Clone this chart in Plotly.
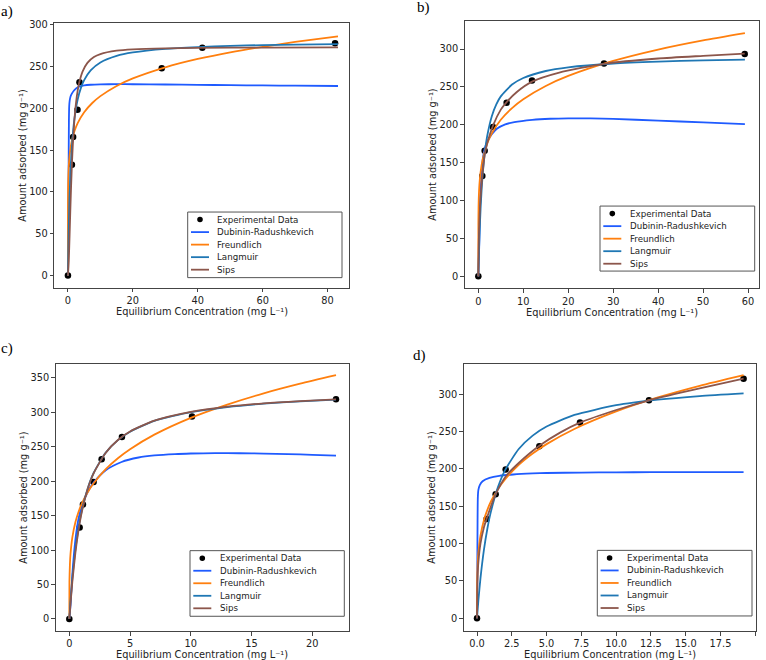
import plotly.graph_objects as go

# ---------------- data ----------------
MODEL_NAMES = ["Dubinin-Radushkevich", "Freundlich", "Langmuir", "Sips"]
EXP_NAME = "Experimental Data"
PANEL_LABELS = ["a)", "b)", "c)", "d)"]
X_TITLE = "Equilibrium Concentration (mg L⁻¹)"
Y_TITLE = "Amount adsorbed (mg g⁻¹)"

# panel a
a_exp_x = [0, 1.23, 1.6, 2.95, 3.55, 28.9, 41.4, 82.3]
a_exp_y = [0, 132.6, 165.8, 198.3, 231.1, 247.8, 272.3, 277.8]
a_dr_x = [0, 0.2, 0.3, 0.4, 0.55, 0.8, 1.2, 1.8, 2.6, 3.6, 5, 7, 10, 15, 20, 30, 40, 50, 60, 70, 83.2]
a_dr_y = [0, 120, 185, 203, 209.5, 214, 217.5, 221, 224, 226, 227.3, 228.1, 228.6, 228.8, 228.7, 228.4, 228.0, 227.6, 227.3, 227.0, 226.6]
a_fr_x = [0, 0.01, 0.05, 0.1, 0.2, 0.4, 0.7, 1, 1.5, 2, 3, 5, 7.5, 10, 15, 20, 30, 40, 50, 60, 70, 83.2]
a_fr_y = [0, 84.1, 104.6, 114.9, 126.2, 138.6, 149.6, 157, 165.9, 172.5, 182.2, 195.3, 206.3, 214.5, 226.7, 235.7, 249, 258.9, 266.9, 273.5, 279.3, 285.9]
a_la_x = [0, 0.1, 0.25, 0.5, 0.75, 1, 1.5, 2, 3, 4, 5, 7, 10, 15, 20, 30, 40, 50, 60, 70, 83.2]
a_la_y = [0, 25.7, 56.4, 93.9, 120.7, 140.7, 168.7, 187.3, 210.5, 224.4, 233.7, 245.3, 254.8, 262.7, 266.8, 271.1, 273.2, 274.6, 275.5, 276.1, 276.7]
a_si_x = [0, 0.25, 0.5, 0.75, 1, 1.25, 1.5, 2, 2.5, 3, 3.5, 4.5, 6, 8, 10, 15, 20, 30, 40, 60, 83.2]
a_si_y = [0, 16.7, 47.2, 79.9, 109.6, 134.8, 155.6, 186.3, 206.8, 221, 231, 243.9, 254.3, 261.2, 264.8, 268.8, 270.4, 271.7, 272.2, 272.6, 272.8]

# panel b
b_exp_x = [0, 0.89, 1.41, 3.26, 6.3, 11.94, 27.96, 59.26]
b_exp_y = [0, 132.5, 165.7, 197.2, 229.2, 258.5, 280.8, 293.4]
b_dr_x = [0, 0.2, 0.4, 0.6, 0.8, 1.0, 1.4, 2.0, 2.4, 3, 4.2, 6, 8, 12, 16, 20, 25, 30, 40, 50, 59.3]
b_dr_y = [0, 40, 95, 125, 143, 155, 168, 178, 182.3, 187.5, 195, 200.5, 203.5, 206.5, 208, 208.6, 208.5, 207.8, 205.5, 203.2, 201]
b_fr_x = [0, 0.01, 0.05, 0.1, 0.25, 0.5, 1, 2, 3, 5, 7.5, 10, 15, 20, 30, 40, 50, 59.3]
b_fr_y = [0, 68.4, 91.1, 103, 121.3, 137.2, 155.2, 175.6, 188.7, 206.7, 222.1, 233.8, 251.3, 264.5, 284.3, 299.3, 311.4, 321]
b_la_x = [0, 0.1, 0.25, 0.5, 0.75, 1, 1.5, 2, 3, 4, 5, 7.5, 10, 15, 20, 30, 40, 50, 59.3]
b_la_y = [0, 23.6, 52.6, 89.1, 115.9, 136.4, 165.9, 185.9, 211.4, 227, 237.5, 253.1, 261.8, 271, 275.8, 280.9, 283.4, 285, 286]
b_si_x = [0, 0.05, 0.15, 0.3, 0.5, 0.89, 1.41, 2, 3.26, 5, 6.3, 8.5, 11.94, 18, 27.96, 40, 50, 59.26]
b_si_y = [0, 31, 57.8, 82.4, 104.4, 132.5, 160, 176, 199, 220, 230, 243, 257, 269, 280.5, 287.5, 291, 294]

# panel c
c_exp_x = [0, 0.85, 1.12, 2.0, 2.66, 4.33, 10.1, 21.95]
c_exp_y = [0, 132.9, 166.1, 198.8, 232.1, 264.3, 294.2, 319.2]
c_dr_x = [0, 0.1, 0.25, 0.5, 0.75, 1, 1.5, 2, 3, 4.3, 5.7, 7, 8.7, 10, 12, 14, 16, 18, 20, 21.95]
c_dr_y = [0, 20, 65, 115, 145, 162, 184, 198, 216, 228, 234.5, 237.5, 239.5, 240.3, 240.8, 240.7, 240.2, 239.4, 238.4, 237.3]
c_fr_x = [0, 0.01, 0.05, 0.1, 0.25, 0.5, 0.75, 1, 1.5, 2, 3, 4, 5, 7, 10, 13, 16, 19, 21.95]
c_fr_y = [0, 53.9, 79.9, 94.7, 118.5, 140.4, 155, 166.3, 183.6, 197, 217.6, 233.4, 246.5, 267.7, 292.1, 311.4, 327.7, 341.7, 354]
c_la_x = [0, 0.05, 0.1, 0.25, 0.5, 0.75, 1, 1.5, 2, 3, 4, 5, 7, 10, 13, 16, 19, 21.95]
c_la_y = [0, 13.8, 26.5, 59.3, 100.8, 131.4, 155, 188.8, 212, 241.6, 259.8, 272, 287.6, 300.4, 307.8, 312.7, 316, 318.5]
c_si_x = [0, 0.05, 0.1, 0.25, 0.5, 0.75, 1, 1.5, 2, 3, 4, 5, 7, 10, 13, 16, 19, 21.95]
c_si_y = [0, 10, 22, 54, 96, 128, 153, 188, 211.5, 241.5, 260, 272.3, 288, 300.8, 308.3, 313.2, 316.4, 318.8]

# panel d
d_exp_x = [0, 0.69, 1.34, 2.06, 4.48, 7.4, 12.36, 19.16]
d_exp_y = [0, 133.1, 166, 199.3, 230.3, 262.3, 292, 320.9]
d_dr_x = [0, 0.02, 0.04, 0.06, 0.1, 0.2, 0.4, 0.9, 1.6, 2.6, 4, 5, 7.5, 10, 12.5, 15, 17.5, 19.16]
d_dr_y = [0, 60, 130, 162, 172, 178.5, 183.5, 188, 190.8, 192.6, 194, 194.6, 195.2, 195.5, 195.7, 195.8, 195.8, 195.7]
d_fr_x = [0, 0.01, 0.05, 0.1, 0.25, 0.5, 0.75, 1, 1.5, 2, 3, 4, 5, 7, 10, 13, 16, 19.16]
d_fr_y = [0, 49.8, 74.3, 88.3, 110.8, 131.7, 145.6, 156.4, 173, 185.8, 205.5, 220.7, 233.3, 253.6, 277.1, 295.8, 311.4, 325.7]
d_la_x = [0, 0.1, 0.25, 0.5, 0.75, 1, 1.5, 2, 3, 4, 5, 7, 10, 13, 16, 19.16]
d_la_y = [0, 23.9, 53.7, 91.9, 120.6, 142.9, 175.3, 197.8, 226.8, 244.7, 256.9, 272.4, 285.4, 292.8, 297.7, 301.3]
d_si_x = [0, 0.02, 0.05, 0.1, 0.25, 0.5, 0.69, 1, 1.34, 2.06, 3, 4.48, 6, 7.4, 10, 12.36, 16, 19.16]
d_si_y = [0, 35, 58, 75, 100, 122, 133, 150, 166, 190, 208, 231, 249, 262, 279, 292, 308, 320.9]

# tick values per panel
a_xticks = [0, 20, 40, 60, 80]
b_xticks = [0, 10, 20, 30, 40, 50, 60]
c_xticks = [0, 5, 10, 15, 20]
d_xticks = [0, 2.5, 5, 7.5, 10, 12.5, 15, 17.5, 20]
a_yticks = [0, 50, 100, 150, 200, 250, 300]
b_yticks = [0, 50, 100, 150, 200, 250, 300]
c_yticks = [0, 50, 100, 150, 200, 250, 300, 350]
d_yticks = [0, 50, 100, 150, 200, 250, 300]

# ---------------- style / layout ----------------
W, H = 766, 660
COLORS = ["#1f5bff", "#ff7f0e", "#1f77b4", "#8c564b"]
AX_COLOR = "#444444"
TXT = "#222222"
FONT = "DejaVu Sans"

panels = [
    dict(exp=(a_exp_x, a_exp_y), curves=[(a_dr_x, a_dr_y), (a_fr_x, a_fr_y), (a_la_x, a_la_y), (a_si_x, a_si_y)],
         xt=a_xticks, yt=a_yticks, xfmt="d",
         box=(54.3, 19.3, 348.7, 285.3), xr=[-4.2, 86.5], yr=[-14.3, 301.7],
         leg=(187.7, 209.3, 342, 275.3), lab=(7, 8), xt_y=309, yt_x=22.3),
    dict(exp=(b_exp_x, b_exp_y), curves=[(b_dr_x, b_dr_y), (b_fr_x, b_fr_y), (b_la_x, b_la_y), (b_si_x, b_si_y)],
         xt=b_xticks, yt=b_yticks, xfmt="d",
         box=(464.7, 16.7, 758.7, 286), xr=[-3.03, 62.37], yr=[-15.7, 337.5],
         leg=(600, 203.3, 754.7, 268.7), lab=(423, 4), xt_y=310, yt_x=432.3),
    dict(exp=(c_exp_x, c_exp_y), curves=[(c_dr_x, c_dr_y), (c_fr_x, c_fr_y), (c_la_x, c_la_y), (c_si_x, c_si_y)],
         xt=c_xticks, yt=c_yticks, xfmt="d",
         box=(55.7, 362, 349, 631), xr=[-1.12, 23.02], yr=[-17.76, 370.6],
         leg=(190, 550, 344.3, 616), lab=(7, 346.7), xt_y=654.3, yt_x=23.3),
    dict(exp=(d_exp_x, d_exp_y), curves=[(d_dr_x, d_dr_y), (d_fr_x, d_fr_y), (d_la_x, d_la_y), (d_si_x, d_si_y)],
         xt=d_xticks, yt=d_yticks, xfmt=".1f",
         box=(463.7, 361.7, 755.7, 631), xr=[-0.956, 20.03], yr=[-17.3, 341.3],
         leg=(597.3, 549.7, 752, 615.7), lab=(419, 353.3), xt_y=654.3, yt_x=431.3),
]


def px(x):
    return x / W


def py(y):
    return 1 - y / H


fig = go.Figure()
shapes = []
annotations = []

for i, p in enumerate(panels):
    n = "" if i == 0 else str(i + 1)
    xa, ya = "x" + n, "y" + n
    ex, ey = p["exp"]
    fig.add_trace(go.Scatter(x=ex, y=ey, mode="markers", name=EXP_NAME, xaxis=xa, yaxis=ya,
                             marker=dict(color="black", size=6.5), showlegend=False))
    for (cx, cy), name, col in zip(p["curves"], MODEL_NAMES, COLORS):
        fig.add_trace(go.Scatter(x=cx, y=cy, mode="lines", name=name, xaxis=xa, yaxis=ya,
                                 line=dict(color=col, width=1.8, shape="spline", smoothing=0.6),
                                 showlegend=False))
    l, t, r, b = p["box"]
    axis_common = dict(showline=True, mirror=True, linecolor=AX_COLOR, linewidth=1,
                       ticks="outside", ticklen=3.5, tickwidth=0.8, tickcolor=AX_COLOR,
                       showgrid=False, zeroline=False,
                       tickfont=dict(family=FONT, size=9.8, color=TXT))
    fig.layout["xaxis" + n] = dict(domain=[px(l), px(r)], range=p["xr"], anchor=ya,
                                   tickvals=p["xt"], tickformat=p["xfmt"], **axis_common)
    fig.layout["yaxis" + n] = dict(domain=[py(b), py(t)], range=p["yr"], anchor=xa,
                                   tickvals=p["yt"], **axis_common)
    # axis titles
    annotations.append(dict(text=X_TITLE, x=px((l + r) / 2), y=py(p["xt_y"]), xref="paper", yref="paper",
                            showarrow=False, xanchor="center", yanchor="middle",
                            font=dict(family=FONT, size=9.8, color=TXT)))
    annotations.append(dict(text=Y_TITLE, x=px(p["yt_x"]), y=py((t + b) / 2), xref="paper", yref="paper",
                            showarrow=False, xanchor="center", yanchor="middle", textangle=-90,
                            font=dict(family=FONT, size=9.8, color=TXT)))
    # panel label
    lx, ly = p["lab"]
    annotations.append(dict(text=PANEL_LABELS[i], x=px(lx), y=py(ly), xref="paper", yref="paper",
                            showarrow=False, xanchor="center", yanchor="middle",
                            font=dict(family="Liberation Serif", size=15, color="black")))
    # legend (drawn box)
    gl, gt, gr, gb = p["leg"]
    shapes.append(dict(type="rect", xref="paper", yref="paper", x0=px(gl), x1=px(gr), y0=py(gb), y1=py(gt),
                       line=dict(color="#555555", width=1), fillcolor="rgba(255,255,255,0.85)", layer="above"))
    labels = [EXP_NAME] + MODEL_NAMES
    for k, lab in enumerate(labels):
        yc = gt + 7.6 + k * 12.6
        if k == 0:
            shapes.append(dict(type="circle", xref="paper", yref="paper",
                               x0=px(gl + 12.3 - 2.8), x1=px(gl + 12.3 + 2.8),
                               y0=py(yc + 2.8), y1=py(yc - 2.8),
                               fillcolor="black", line=dict(color="black", width=0), layer="above"))
        else:
            shapes.append(dict(type="line", xref="paper", yref="paper",
                               x0=px(gl + 3.3), x1=px(gl + 21.3), y0=py(yc), y1=py(yc),
                               line=dict(color=COLORS[k - 1], width=1.8), layer="above"))
        annotations.append(dict(text=lab, x=px(gl + 27.5), y=py(yc), xref="paper", yref="paper",
                                showarrow=False, xanchor="left", yanchor="middle",
                                font=dict(family=FONT, size=8.7, color=TXT)))

fig.update_layout(width=W, height=H, margin=dict(l=0, r=0, t=0, b=0),
                  paper_bgcolor="white", plot_bgcolor="white",
                  shapes=shapes, annotations=annotations, showlegend=False,
                  font=dict(family=FONT))

fig.write_html("out.html")
